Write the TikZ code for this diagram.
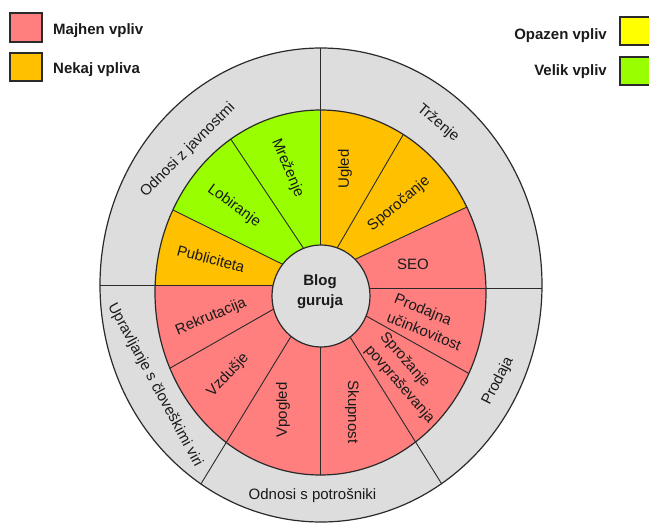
\documentclass[tikz,border=0pt]{standalone}
\usepackage{fontspec}
\setmainfont{Liberation Sans}
\definecolor{ringgray}{HTML}{DDDDDD}
\definecolor{lowred}{HTML}{FF7F7F}
\definecolor{someorange}{HTML}{FFC000}
\definecolor{notedyellow}{HTML}{FFFF00}
\definecolor{biggreen}{HTML}{99FF00}
\definecolor{ink}{HTML}{1A1A1A}
\definecolor{edge}{HTML}{2A2A2A}
\tikzset{
  divider/.style={draw=edge, line width=0.9pt},
  rim/.style={draw=edge, line width=1.2pt},
  legbox/.style={draw=edge, line width=1.1pt},
  lbl/.style={font=\fontsize{15}{20}\selectfont, text=ink, inner sep=0pt},
  leglbl/.style={font=\fontsize{15}{18}\selectfont\bfseries, text=ink, inner sep=0pt},
}
\begin{document}
\begin{tikzpicture}[x=1pt,y=-1pt]
\useasboundingbox (0,0) rectangle (649,528);
\clip (0,0) rectangle (649,528);

% centres of the three rings
\coordinate (oc) at (321,285);
\coordinate (mc) at (320.5,292.5);
\coordinate (ic) at (321,296);

% divider end points (outer end, inner end)
\coordinate (l1o) at (320,40);    \coordinate (l1i) at (320,296);
\coordinate (l2o) at (90,285);    \coordinate (l2i) at (300,285);
\coordinate (l3o) at (560,288);   \coordinate (l3i) at (340,288);
\coordinate (l4o) at (185,510);   \coordinate (l4i) at (308.6,307.6);
\coordinate (l5o) at (458,510);   \coordinate (l5i) at (333.2,310);
\coordinate (l6o) at (216,117);   \coordinate (l6i) at (314,264);
\coordinate (l7o) at (150,198.6); \coordinate (l7i) at (309.5,277.6);
\coordinate (l8o) at (415.6,113.4); \coordinate (l8i) at (327.4,264.6);
\coordinate (l9o) at (488.4,197); \coordinate (l9i) at (327.9,272);
\coordinate (l10o) at (488,384.2); \coordinate (l10i) at (348,305.8);
\coordinate (l11o) at (320,490);  \coordinate (l11i) at (320,330);
\coordinate (l12o) at (152,378.4); \coordinate (l12i) at (292,298.6);
\coordinate (l7f) at (99.5,173.6);
\coordinate (l9f) at (563.3,162);

% rings
\path[fill=ringgray] (oc) ellipse [x radius=221, y radius=237];
\path[fill=lowred] (mc) ellipse [x radius=165.5, y radius=182.5];

\begin{scope}
  \clip (mc) ellipse [x radius=165.5, y radius=182.5];
  \fill[biggreen] (l7i) -- (l7f) -- (99.5,80) -- (320,80) -- (l1i) -- cycle;
  \fill[someorange] (l7i) -- (l7f) -- (99.5,285) -- (l2i) -- cycle;
  \fill[someorange] (l1i) -- (320,80) -- (563.3,80) -- (l9f) -- (l9i) -- cycle;
  \foreach \k in {6,7,8,9,10,11,12} \draw[divider] (l\k o) -- (l\k i);
\end{scope}

\begin{scope}
  \clip (oc) ellipse [x radius=221, y radius=237];
  \foreach \k in {1,2,3,4,5} \draw[divider] (l\k o) -- (l\k i);
\end{scope}

\draw[rim] (mc) ellipse [x radius=165.5, y radius=182.5];
\draw[rim] (oc) ellipse [x radius=221, y radius=237];
\draw[rim, fill=ringgray] (ic) ellipse [x radius=49, y radius=51];

% hub
\node[lbl, font=\fontsize{15}{20}\selectfont\bfseries, align=center] (hub) at (320,292) {Blog\\guruja};

% outer ring labels
\node[lbl, rotate=45] (pr) at (188,150) {Odnosi z javnostmi};
\node[lbl, rotate=-40] (mk) at (438,123) {Trženje};
\node[lbl, rotate=63] (sl) at (498,381) {Prodaja};
\node[lbl] (cr) at (312.5,496) {Odnosi s potrošniki};
\node[lbl, rotate=-61.6] (hr) at (155,385) {Upravljanje s človeškimi viri};

% inner ring labels
\node[lbl, rotate=-67] (nw) at (287.5,168) {Mreženje};
\node[lbl, rotate=-36] (lb) at (234,206) {Lobiranje};
\node[lbl, rotate=-15] (pb) at (211,259) {Publiciteta};
\node[lbl, rotate=90] (ug) at (345,169) {Ugled};
\node[lbl, rotate=40] (sp) at (399,204) {Sporočanje};
\node[lbl] (seo) at (413,264) {SEO};
\node[lbl, rotate=-22, anchor=west, align=left] (pu) at (391.5,307) {Prodajna\\učinkovitost};
\node[lbl, rotate=-49, anchor=west, align=left] (dm) at (375,341) {Sprožanje\\povpraševanja};
\node[lbl, rotate=-90] (sk) at (352,412) {Skupnost};
\node[lbl, rotate=90] (vp) at (283,410) {Vpogled};
\node[lbl, rotate=47] (vz) at (228,375) {Vzdušje};
\node[lbl, rotate=22.6] (rk) at (211,317) {Rekrutacija};

% key
\draw[legbox, fill=lowred] (10,13) rectangle (42,42);
\draw[legbox, fill=someorange] (10,53) rectangle (42,81);
\draw[legbox, fill=notedyellow] (620,17) rectangle (655,45);
\draw[legbox, fill=biggreen] (620,57) rectangle (655,85);
\node[leglbl, anchor=base west] (k1) at (53,34.3) {Majhen vpliv};
\node[leglbl, anchor=base west] (k2) at (53,73.3) {Nekaj vpliva};
\node[leglbl, anchor=base east] (k3) at (607,39.3) {Opazen vpliv};
\node[leglbl, anchor=base east] (k4) at (607,75) {Velik vpliv};
\end{tikzpicture}
\end{document}
